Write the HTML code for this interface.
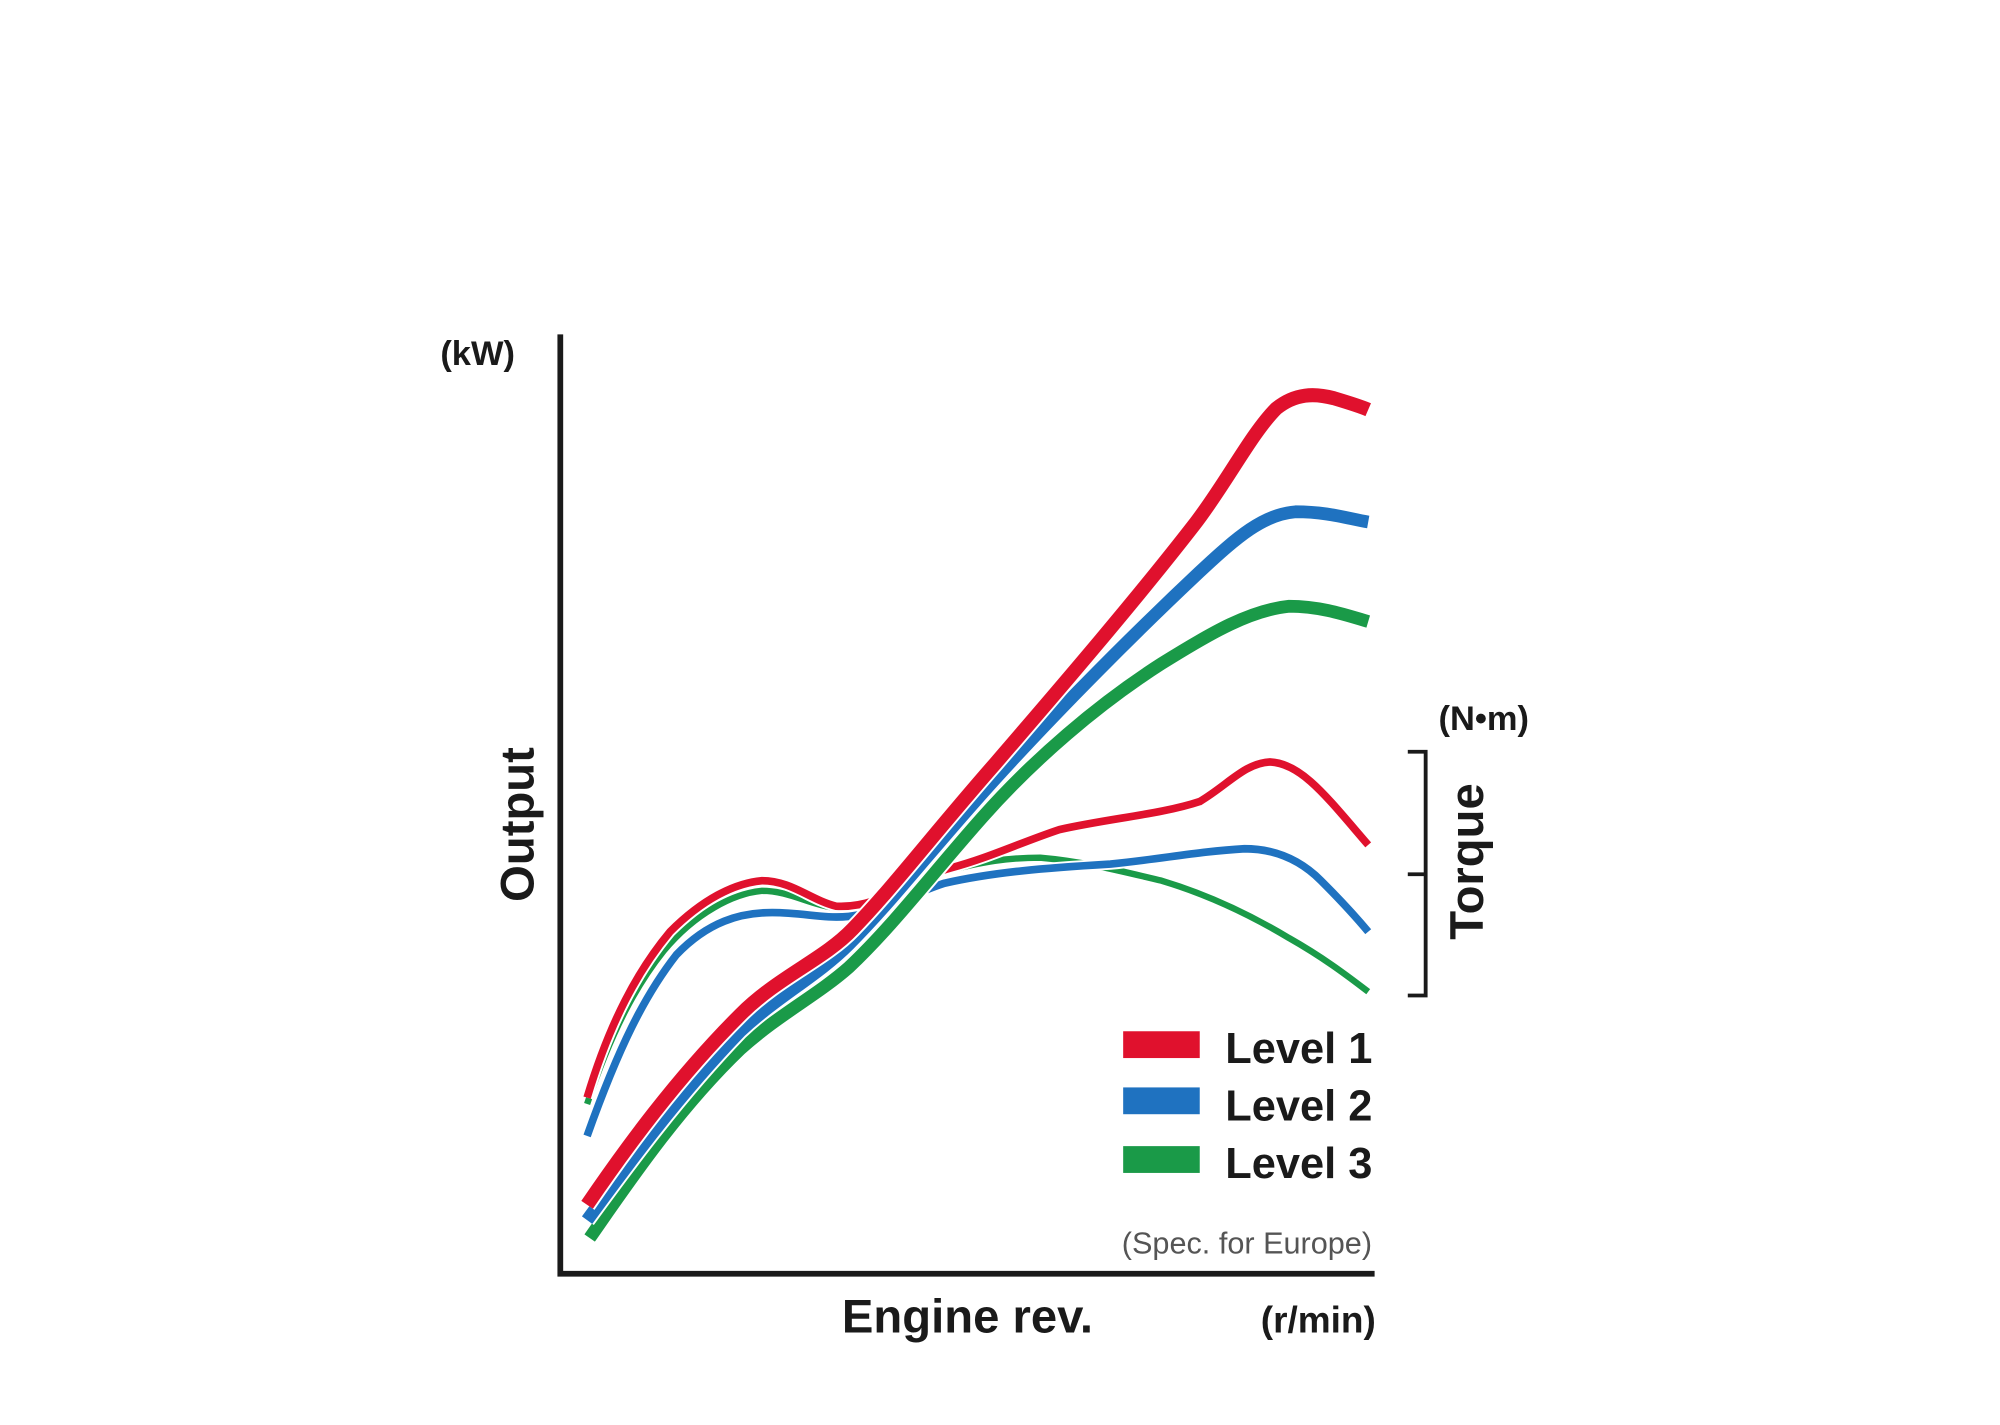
<!DOCTYPE html>
<html><head><meta charset="utf-8"><style>
html,body{margin:0;padding:0;background:#fff;}
svg{display:block;}
text{font-family:"Liberation Sans",Arial,sans-serif;}
</style></head><body>
<svg width="2000" height="1425" viewBox="0 0 1567 1116.5" preserveAspectRatio="none" xmlns="http://www.w3.org/2000/svg">
<rect width="1567" height="1116.5" fill="#fff"/>
<g fill="none" stroke-linecap="butt" stroke-linejoin="round">
<path d="M460,865 C480,805 500,770 520,745 C545,715 575,700 597,698 C620,698 635,710 660,712 C690,712 710,695 740,683 C770,675 790,672 815,672 C850,675 880,683 910,690 C950,702 985,720 1010,735 C1040,752 1060,768 1072,777" stroke="#fff" stroke-width="9"/>
<path d="M460,865 C480,805 500,770 520,745 C545,715 575,700 597,698 C620,698 635,710 660,712 C690,712 710,695 740,683 C770,675 790,672 815,672 C850,675 880,683 910,690 C950,702 985,720 1010,735 C1040,752 1060,768 1072,777" stroke="#1a9a48" stroke-width="5"/>
<path d="M460,890 C485,820 505,780 530,748 C555,722 580,715 605,715 C630,715 645,720 665,718 C690,715 715,700 740,692 C780,683 820,680 870,677 C910,673 940,667 975,665 C1000,665 1020,675 1035,690 C1050,705 1062,718 1072,730" stroke="#fff" stroke-width="9"/>
<path d="M460,890 C485,820 505,780 530,748 C555,722 580,715 605,715 C630,715 645,720 665,718 C690,715 715,700 740,692 C780,683 820,680 870,677 C910,673 940,667 975,665 C1000,665 1020,675 1035,690 C1050,705 1062,718 1072,730" stroke="#1f72c0" stroke-width="6"/>
<path d="M460,860 C478,800 500,760 525,730 C550,705 575,692 597,690 C620,690 635,705 655,710 C690,712 715,688 745,680 C775,672 800,660 830,650 C870,641 910,638 940,628 C962,615 975,598 995,597 C1020,598 1040,625 1072,662" stroke="#fff" stroke-width="9"/>
<path d="M460,860 C478,800 500,760 525,730 C550,705 575,692 597,690 C620,690 635,705 655,710 C690,712 715,688 745,680 C775,672 800,660 830,650 C870,641 910,638 940,628 C962,615 975,598 995,597 C1020,598 1040,625 1072,662" stroke="#e0112d" stroke-width="6"/>
<path d="M462,970 C490,930 530,870 580,822 C610,795 640,780 665,758 C700,725 730,685 770,640 C810,595 860,552 910,520 C950,495 980,478 1010,475 C1035,475 1055,482 1072,487" stroke="#fff" stroke-width="13"/>
<path d="M462,970 C490,930 530,870 580,822 C610,795 640,780 665,758 C700,725 730,685 770,640 C810,595 860,552 910,520 C950,495 980,478 1010,475 C1035,475 1055,482 1072,487" stroke="#1a9a48" stroke-width="10"/>
<path d="M460,956 C490,915 530,860 580,808 C610,780 640,765 665,740 C700,705 730,665 780,610 C830,555 890,495 940,448 C970,420 990,403 1015,401 C1040,401 1055,406 1072,409" stroke="#fff" stroke-width="13"/>
<path d="M460,956 C490,915 530,860 580,808 C610,780 640,765 665,740 C700,705 730,665 780,610 C830,555 890,495 940,448 C970,420 990,403 1015,401 C1040,401 1055,406 1072,409" stroke="#1f72c0" stroke-width="10"/>
<path d="M460,944 C490,900 530,845 580,795 C610,765 645,752 668,728 C700,695 730,655 780,598 C830,540 890,470 935,412 C960,380 980,340 1000,320 C1015,308 1030,308 1045,312 C1055,315 1065,318 1072,321" stroke="#fff" stroke-width="14"/>
<path d="M460,944 C490,900 530,845 580,795 C610,765 645,752 668,728 C700,695 730,655 780,598 C830,540 890,470 935,412 C960,380 980,340 1000,320 C1015,308 1030,308 1045,312 C1055,315 1065,318 1072,321" stroke="#e0112d" stroke-width="11"/>
</g>
<path d="M439,262 V998 H1077" fill="none" stroke="#1a1a1a" stroke-width="4.5"/>
<path d="M1103,589 H1117 V780 H1103 M1103,685 H1117" fill="none" stroke="#1a1a1a" stroke-width="3"/>
<text x="345" y="286" font-size="27" font-weight="bold" fill="#1a1a1a">(kW)</text>
<text transform="translate(418,646) rotate(-90)" text-anchor="middle" font-size="37" font-weight="bold" fill="#1a1a1a">Output</text>
<text x="758" y="1044" text-anchor="middle" font-size="37" font-weight="bold" fill="#1a1a1a">Engine rev.</text>
<text x="1078" y="1044" text-anchor="end" font-size="29" font-weight="bold" fill="#1a1a1a">(r/min)</text>
<text x="1075" y="982" text-anchor="end" font-size="24" fill="#555">(Spec. for Europe)</text>
<text x="1198" y="572" text-anchor="end" font-size="27" font-weight="bold" fill="#1a1a1a">(N•m)</text>
<text transform="translate(1162,675) rotate(-90)" text-anchor="middle" font-size="37" font-weight="bold" fill="#1a1a1a">Torque</text>
<rect x="880" y="808" width="60" height="21" fill="#e0112d"/>
<rect x="880" y="852" width="60" height="21" fill="#1f72c0"/>
<rect x="880" y="898" width="60" height="21" fill="#1a9a48"/>
<text x="960" y="833" font-size="34" font-weight="bold" fill="#1a1a1a">Level 1</text>
<text x="960" y="878" font-size="34" font-weight="bold" fill="#1a1a1a">Level 2</text>
<text x="960" y="923" font-size="34" font-weight="bold" fill="#1a1a1a">Level 3</text>
</svg>
</body></html>
